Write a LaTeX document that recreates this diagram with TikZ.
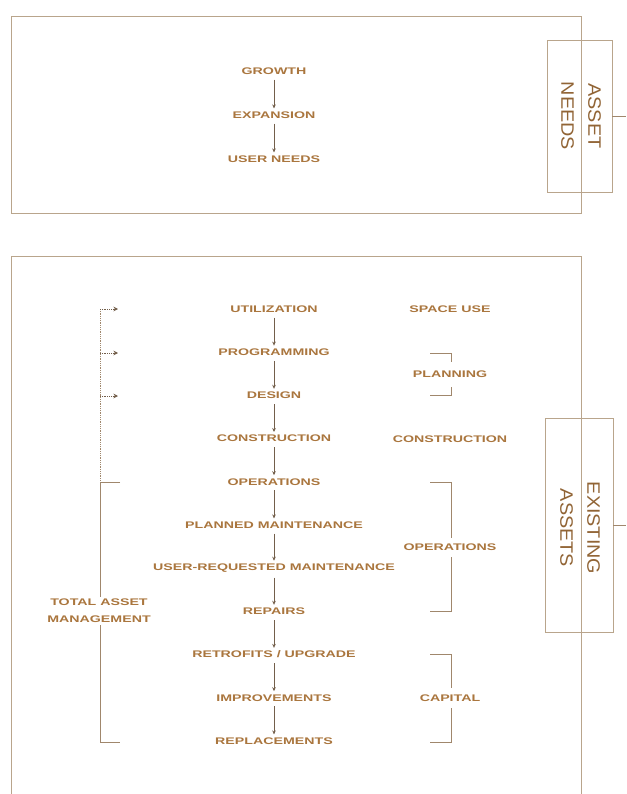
\documentclass[tikz,border=0pt]{standalone}
\usepackage{fontspec}
\setmainfont{Liberation Sans}
\newfontfamily\widefont[FakeStretch=1.48]{Liberation Sans Bold}
\newfontfamily\sidefont[FakeStretch=1.1]{Liberation Sans}
\usetikzlibrary{arrows.meta}
\definecolor{txt}{RGB}{170,118,62}
\definecolor{ln}{RGB}{160,135,108}
\definecolor{frm}{RGB}{185,165,140}
\definecolor{arr}{RGB}{115,95,75}
\begin{document}
\begin{tikzpicture}[x=1pt,y=-1pt,
  item/.style={font=\widefont\fontsize{9.6}{17}\selectfont, text=txt, inner sep=2pt, align=center},
  sidetext/.style={font=\sidefont\fontsize{18}{27}\selectfont, text=txt!85!black, rotate=-90, align=center, inner sep=0pt},
  sidebox/.style={draw=frm, line width=0.9pt, inner sep=0pt},
  flow/.style={draw=arr, line width=0.7pt, -{Stealth[length=4pt,width=3.6pt]}, shorten <=3pt, shorten >=1pt},
  boxline/.style={draw=frm, line width=0.9pt},
  brk/.style={draw=ln, line width=0.8pt},
  dotarrow/.style={draw=ln, line width=0.8pt, densely dotted, -{Stealth[length=4.5pt,width=4.5pt]}, arr}
]
\useasboundingbox[fill=white] (0,0) rectangle (626,794);

% outer frames
\draw[boxline] (11,16) rectangle (581,213);
\draw[boxline] (11,794) -- (11,256) -- (581,256) -- (581,794);

% top flow
\node[item] (g) at (274,71) {GROWTH};
\node[item] (e) at (274,115) {EXPANSION};
\node[item] (u) at (274,159) {USER NEEDS};
\draw[flow] (g) -- (e);
\draw[flow] (e) -- (u);

% side boxes
\node[sidebox, minimum width=65pt, minimum height=152pt] (anb) at (579.5,116) {};
\node[sidetext] (ant) at (581,116) {ASSET\\NEEDS};
\coordinate (ane) at (626,116);
\draw[brk] (anb.east) -- (ane);

\node[sidebox, minimum width=68pt, minimum height=214pt] (eab) at (579,525) {};
\node[sidetext] (eat) at (580,528) {EXISTING\\ASSETS};
\coordinate (eae) at (626,525);
\draw[brk] (eab.east) -- (eae);

% main flow
\foreach \n/\t [count=\k from 0] in {n0/{UTILIZATION}, n1/{PROGRAMMING}, n2/{DESIGN}, n3/{CONSTRUCTION}, n4/{OPERATIONS}, n5/{PLANNED MAINTENANCE}, n6/{USER-REQUESTED MAINTENANCE}, n7/{REPAIRS}, n8/{RETROFITS / UPGRADE}, n9/{IMPROVEMENTS}, n10/{REPLACEMENTS}}
  \node[item] (\n) at (274,309+43.2*\k) {\t};
\foreach \a/\b in {n0/n1, n1/n2, n2/n3, n3/n4, n4/n5, n5/n6, n6/n7, n7/n8, n8/n9, n9/n10}
  \draw[flow] (\a) -- (\b);

% right column
\node[item] (su) at (450,309) {SPACE USE};
\node[item] (pl) at (450,374) {PLANNING};
\node[item] (co) at (450,439) {CONSTRUCTION};
\node[item] (op) at (450,547) {OPERATIONS};
\node[item] (ca) at (450,698) {CAPITAL};

% right brackets
\draw[brk] (430,353) -- (451,353) -- (451,362);
\draw[brk] (451,387) -- (451,395) -- (430,395);
\draw[brk] (430,482) -- (451,482) -- (451,538);
\draw[brk] (451,557) -- (451,611) -- (430,611);
\draw[brk] (430,654) -- (451,654) -- (451,688);
\draw[brk] (451,708) -- (451,742) -- (430,742);

% left dotted bracket with arrows
\draw[brk, densely dotted] (100,309) -- (100,482);
\coordinate (d0) at (118,309);
\coordinate (d1) at (118,353);
\coordinate (d2) at (118,396);
\draw[dotarrow] (100,309) -- (d0);
\draw[dotarrow] (100,353) -- (d1);
\draw[dotarrow] (100,396) -- (d2);

% total asset management bracket
\node[item] (tam) at (99,611) {TOTAL ASSET\\MANAGEMENT};
\draw[brk] (120,482) -- (100,482) -- (tam.north -| 100,0);
\draw[brk] (tam.south -| 100,0) -- (100,742) -- (120,742);
\end{tikzpicture}
\end{document}
